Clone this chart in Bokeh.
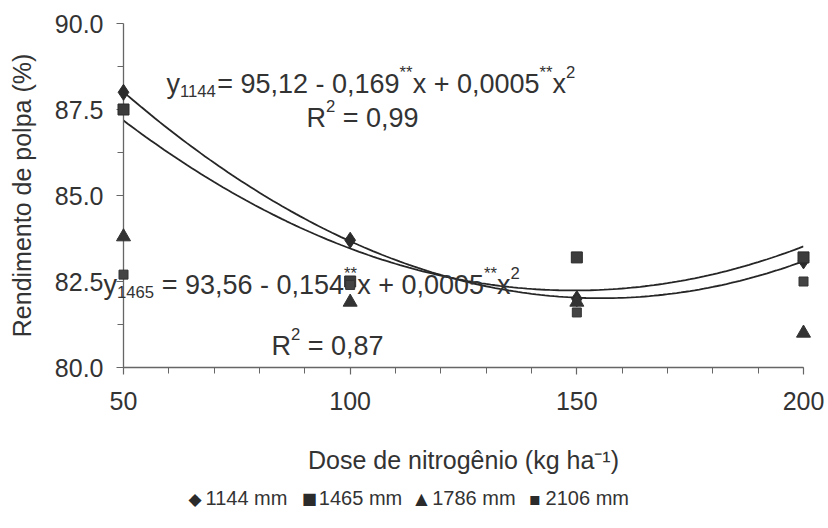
import numpy as np
from bokeh.plotting import figure
from bokeh.models import Range1d, FixedTicker, PrintfTickFormatter, ColumnDataSource
from bokeh.core.properties import value
from bokeh.embed import file_html
from bokeh.resources import INLINE

# ---------------- data ----------------
doses = [50, 100, 150, 200]
y1144 = [88.0, 83.7, 82.0, 83.1]
y1465 = [87.5, 82.5, 83.2, 83.2]
y1786 = [83.8, 81.9, 81.9, 81.0]
y2106 = [82.7, 82.4, 81.6, 82.5]
series_labels = ["1144 mm", "1465 mm", "1786 mm", "2106 mm"]
x_ticks = [50, 100, 150, 200]
y_ticks = [80.0, 82.5, 85.0, 87.5, 90.0]

FONT = "Liberation Sans"
TXT = "#333333"
AX = "#666666"

# ---------------- geometry ----------------
FRAME_LEFT = 123
FRAME_RIGHT = 803
FRAME_TOP = 23
FRAME_BOTTOM = 367
PXX = (FRAME_RIGHT - FRAME_LEFT) / 150.0
PXY = (FRAME_BOTTOM - FRAME_TOP) / 10.0

p = figure(width=828, height=528, output_backend="svg", toolbar_location=None,
           x_range=Range1d(50, 200), y_range=Range1d(80, 90),
           min_border_left=FRAME_LEFT, min_border_right=828 - FRAME_RIGHT,
           min_border_top=FRAME_TOP, min_border_bottom=528 - FRAME_BOTTOM)
p.outline_line_color = None
p.grid.visible = False
p.background_fill_color = "white"
p.border_fill_color = "white"

# axes
xa = p.xaxis[0]
xa.ticker = FixedTicker(ticks=x_ticks, minor_ticks=list(range(50, 201, 10)))
ya = p.yaxis[0]
ya.ticker = FixedTicker(ticks=y_ticks, minor_ticks=[81.25, 83.75, 86.25, 88.75])
ya.formatter = PrintfTickFormatter(format="%.1f")
for ax in (xa, ya):
    ax.axis_line_color = AX
    ax.axis_line_width = 1.3
    ax.major_tick_line_color = AX
    ax.minor_tick_line_color = AX
    ax.major_tick_line_width = 1.2
    ax.minor_tick_line_width = 1.0
    ax.major_tick_out = 7
    ax.major_tick_in = 0
    ax.minor_tick_out = 6
    ax.minor_tick_in = 0
    ax.major_label_text_font = FONT
    ax.major_label_text_color = TXT
    ax.major_label_text_font_size = "25px"
    ax.axis_label_text_font = FONT
    ax.axis_label_text_font_size = "25px"
    ax.axis_label_text_font_style = "normal"
    ax.axis_label_text_color = TXT
xa.major_label_standoff = 17
ya.major_label_standoff = 13
xa.axis_label = "Dose de nitrogênio (kg ha\u207b\u00b9)"
xa.axis_label_standoff = 33
ya.axis_label = "Rendimento de polpa (%)"
ya.axis_label_standoff = 16

# regression curves from the data
xs = np.linspace(50, 200, 151)
c1144 = np.polyfit(doses, y1144, 2)
c1465 = np.polyfit(doses, y1465, 2)
p.line(xs, np.polyval(c1144, xs), line_color="#262626", line_width=1.8)
p.line(xs, np.polyval(c1465, xs), line_color="#262626", line_width=1.8)

# markers (overlay level so markers on the frame edge are not cut)
STY = [dict(marker="diamond", size=16, fill_color="#2b2b2b", line_color="#2b2b2b"),
       dict(marker="square", size=11, fill_color="#3c3c3c", line_color="#2b2b2b"),
       dict(marker="triangle", size=14, fill_color="#333333", line_color="#333333"),
       dict(marker="square", size=9, fill_color="#444444", line_color="#333333")]
for ys, st in zip([y1144, y1465, y1786, y2106], STY):
    p.scatter(doses, ys, level="overlay", **st)

# ---------------- helpers for texts placed in canvas pixels ----------------
W = {' ': 278, '*': 389, '+': 584, ',': 278, '-': 333, '.': 278, '=': 584,
     'R': 722, 'x': 500, 'y': 500, 'm': 833}


def text_w(s, size):
    return sum(W.get(ch, 556) for ch in s) / 1000.0 * size


def to_data(px, py):
    return 50 + (px - FRAME_LEFT) / PXX, 90 - (py - FRAME_TOP) / PXY


def put_text(t, px, py, fs, baseline="alphabetic", font=FONT, color=TXT):
    dx, dyv = to_data(px, py)
    src = ColumnDataSource(dict(x=[dx], y=[dyv], t=[t]))
    p.text(x="x", y="y", text="t", source=src, text_font=value(font),
           text_font_size=f"{fs:.1f}px", text_color=color,
           text_baseline=baseline, text_align="left", level="overlay")


def rich(pieces, left, base, size):
    x = left
    small = size * 0.62
    for t, kind in pieces:
        fs = size if kind == "n" else small
        dy = 0 if kind == "n" else (7 if kind == "sub" else -size * 0.42)
        lead = len(t) - len(t.lstrip(" "))
        x += text_w(" " * lead, fs)
        t = t.lstrip(" ")
        put_text(t, x, base + dy, fs)
        x += text_w(t, fs)


EQ = 27
rich([("y", "n"), ("1144", "sub"), ("= 95,12 - 0,169", "n"), ("**", "sup"),
      ("x + 0,0005", "n"), ("**", "sup"), ("x", "n"), ("2", "sup")], 166, 83, EQ)
rich([("R", "n"), ("2", "sup"), (" = 0,99", "n")], 306, 117, EQ)
rich([("y", "n"), ("1465", "sub"), (" = 93,56 - 0,154", "n"), ("**", "sup"),
      ("x + 0,0005", "n"), ("**", "sup"), ("x", "n"), ("2", "sup")], 103, 284, EQ)
rich([("R", "n"), ("2", "sup"), (" = 0,87", "n")], 271, 345, EQ)

# ---------------- legend (below the axis title) ----------------
LEG_FS = 20
LEG_Y = 497
leg_symbols = ["\u25c6", "\u25a0", "\u25b2", "\u25aa"]
leg_sym_fs = [17, 16, 16, 18]
lx = 188
for lab, sym, sfs in zip(series_labels, leg_symbols, leg_sym_fs):
    put_text(sym, lx, LEG_Y + 1, sfs, baseline="middle", font="DejaVu Sans",
             color="#2b2b2b")
    put_text(lab, lx + 17, LEG_Y, LEG_FS, baseline="middle")
    lx += 17 + text_w(lab, LEG_FS) + 13

open("out.html", "w").write(file_html(p, INLINE))
